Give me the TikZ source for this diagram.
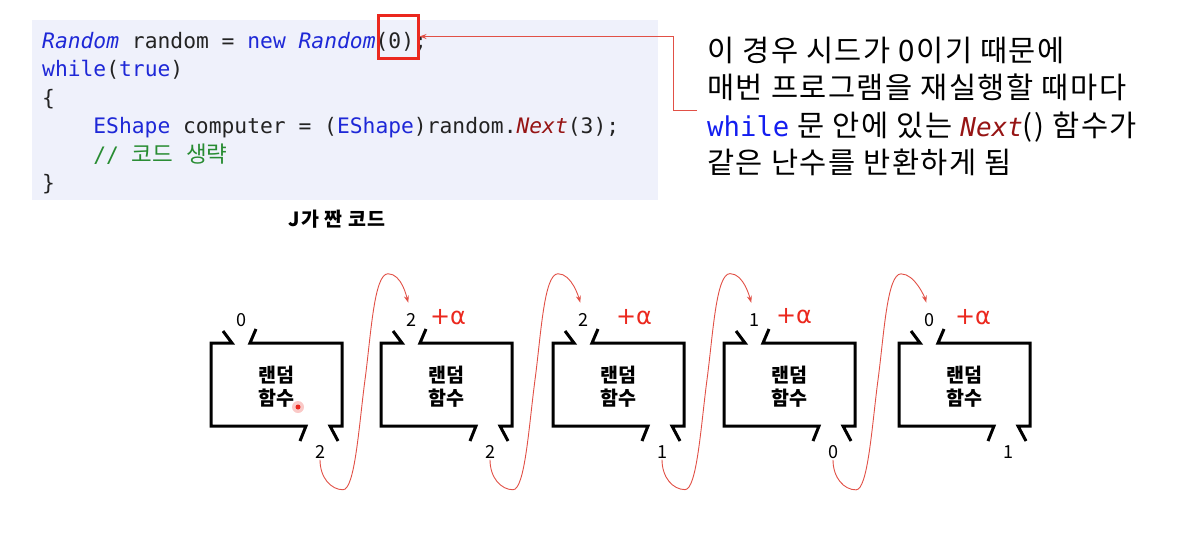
\documentclass[tikz,border=0pt]{standalone}
\usepackage{fontspec}
\setmainfont{Noto Sans CJK KR}
\newfontfamily\codefont{DejaVu Sans Mono}
\newfontfamily\cjk{Noto Sans CJK KR}
\newfontfamily\expfont[LetterSpace=5]{Noto Sans CJK KR}
\newfontfamily\capfont[LetterSpace=6]{Noto Sans CJK KR}
\newfontfamily\dvs{DejaVu Sans}
\usetikzlibrary{arrows.meta}
\definecolor{codebg}{RGB}{239,241,251}
\definecolor{kw}{RGB}{30,40,215}
\definecolor{fn}{RGB}{150,20,20}
\definecolor{cm}{RGB}{40,140,50}
\definecolor{tx}{RGB}{35,35,35}
\definecolor{hl}{RGB}{235,40,30}
\definecolor{thinred}{RGB}{225,80,70}
\definecolor{wkw}{RGB}{20,30,240}
\begin{document}
\begin{tikzpicture}[x=1pt,y=-1pt,
  codeline/.style={anchor=base west, inner sep=0pt, text=tx, font=\codefont\fontsize{21.3}{28.5}\selectfont},
  expline/.style={anchor=base west, inner sep=0pt, text=black, font=\expfont\fontsize{29.5}{37}\selectfont},
  boxline/.style={line width=3pt, black, line join=miter},
  numlab/.style={inner sep=1pt, font=\fontsize{18}{20}\selectfont},
  boxlab/.style={align=center, inner sep=0pt, font=\bfseries\fontsize{19.5}{23}\selectfont},
  plusalpha/.style={inner sep=0pt, text=hl, font=\dvs\fontsize{24}{26}\selectfont},
  curvearrow/.style={thinred, line width=0.9pt, -{Stealth[length=7pt,width=5pt]}, shorten >=10pt},
  pointer/.style={thinred, line width=1pt, -{Stealth[length=7pt,width=5pt]}}
]
\useasboundingbox (0,0) rectangle (1182,533);
% code block
\fill[codebg] (32,20) rectangle (658,200);
\node[codeline] (c1) at (42,48) {\textcolor{kw}{\itshape Random} random = \textcolor{kw}{new} \textcolor{kw}{\itshape Random}(0);};
\node[codeline] (c2) at (42,76.5) {\textcolor{kw}{while}(\textcolor{kw}{true})};
\node[codeline] (c3) at (42,105) {\{};
\node[codeline] (c4) at (93.2,133.5) {\textcolor{kw}{EShape} computer = (\textcolor{kw}{EShape})random.\textcolor{fn}{\itshape Next}(3);};
\node[codeline, text=cm] (c5) at (93.2,162) {// {\cjk\fontsize{22.5}{28.5}\selectfont 코드} {\cjk\fontsize{22.5}{28.5}\selectfont 생략}};
\node[codeline] (c6) at (42,190.5) {\}};
% highlight box and pointer
\node[draw=hl, line width=3pt, minimum width=40pt, minimum height=43pt, inner sep=0pt] (hlbox) at (398,36.5) {};
\coordinate (cturn) at (673,110);
\coordinate (cend) at (697,110);
\draw[pointer] (cend) -- (cturn) |- (hlbox.east);
% caption
\node[inner sep=0pt, font=\capfont\bfseries\fontsize{19.5}{22}\selectfont] (cap) at (337,219) {J가 짠 코드};
% explanation
\node[expline] (e1) at (707,61) {이 경우 시드가 0이기 때문에};
\node[expline] (e2) at (707,98) {매번 프로그램을 재실행할 때마다};
\node[expline] (e3) at (707,136) {{\codefont\fontsize{27.3}{37}\selectfont\color{wkw}while} 문 안에 있는 {\codefont\fontsize{26}{37}\selectfont\itshape\color{fn}Next}() 함수가};
\node[expline] (e4) at (707,173) {같은 난수를 반환하게 됨};
% random function boxes
\foreach \L/\t/\b/\i in {211/0/2/1, 381/2/2/2, 553/2/1/3, 724/1/0/4, 899/0/1/5}{
  \draw[boxline] ({\L+12},331) -- ({\L+21},343) -- (\L,343) -- (\L,426) -- ({\L+95},426) -- ({\L+89},441);
  \draw[boxline] ({\L+45},329) -- ({\L+39},343) -- ({\L+131},343) -- ({\L+131},426) -- ({\L+119},426) -- ({\L+127},441);
  \node[boxlab] (fn\i) at ({\L+65.5},387) {랜덤\\함수};
  \node[numlab] (top\i) at ({\L+30},320) {\t};
  \node[numlab] (bot\i) at ({\L+109},452) {\b};
}
% +alpha annotations
\node[plusalpha] (pa2) at (448,317) {+α};
\node[plusalpha] (pa3) at (634,317) {+α};
\node[plusalpha] (pa4) at (794,316) {+α};
\node[plusalpha] (pa5) at (973,317) {+α};
% pointer dot
\fill[hl!25] (298,407) circle (6pt);
\fill[hl] (298,407) circle (2.5pt);
% curved arrows
\foreach \i/\j in {1/2,2/3,3/4,4/5}{
  \draw[curvearrow] (bot\i.south) .. controls +(0,18) and +(-12,0) .. ++(23,30)
     .. controls +(12,0) and +(-6,45) .. ++(22,-110)
     .. controls +(6,-45) and +(-14,0) .. ++(23,-106)
     .. controls +(14,0) and +(-4,-14) .. (top\j.north);
}
\end{tikzpicture}
\end{document}
